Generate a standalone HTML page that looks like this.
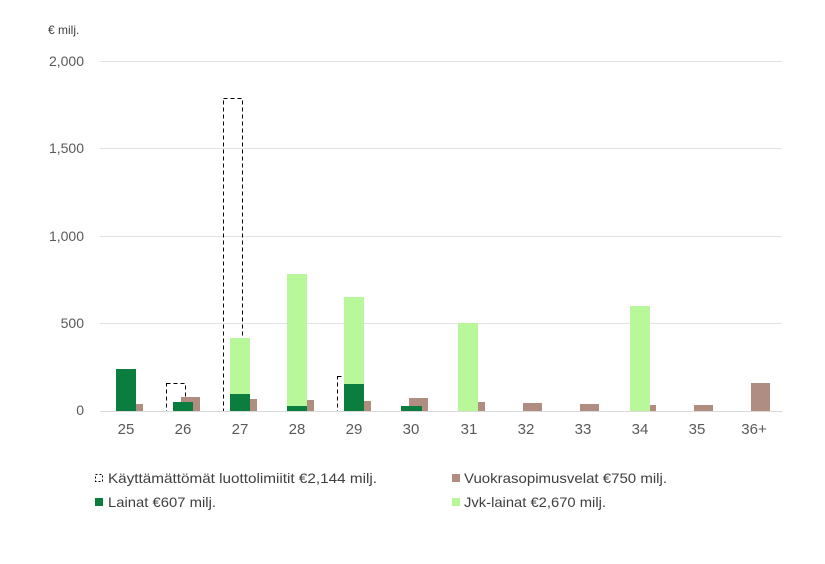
<!DOCTYPE html>
<html><head><meta charset="utf-8"><style>
body{margin:0;background:#fff;}
svg text{font-family:"Liberation Sans",sans-serif;}
</style></head><body>
<svg width="825" height="559" viewBox="0 0 825 559" xmlns="http://www.w3.org/2000/svg">
<rect width="825" height="559" fill="#fff"/>
<text x="48" y="34" font-size="12" fill="#404040">€ milj.</text>
<g stroke="#e3e3e3" stroke-width="1">
<line x1="100" y1="61.5" x2="782" y2="61.5"/>
<line x1="100" y1="148.5" x2="782" y2="148.5"/>
<line x1="100" y1="236.5" x2="782" y2="236.5"/>
<line x1="100" y1="323.5" x2="782" y2="323.5"/>
</g>
<g font-size="14" fill="#595959" text-anchor="end">
<text x="84" y="66">2,000</text>
<text x="84" y="153">1,500</text>
<text x="84" y="241">1,000</text>
<text x="84" y="328">500</text>
<text x="84" y="415">0</text>
</g>
<g fill="none" stroke="#000" stroke-width="1" stroke-dasharray="4,3">
<rect x="166.5" y="383.5" width="19" height="28"/>
<rect x="223.5" y="98.5" width="19" height="313"/>
<rect x="337.5" y="376.5" width="19" height="35"/>
</g>
<g fill="#b08d81">
<rect x="124" y="404" width="19" height="7"/>
<rect x="181" y="397" width="19" height="14"/>
<rect x="238" y="399" width="19" height="12"/>
<rect x="295" y="400" width="19" height="11"/>
<rect x="352" y="401" width="19" height="10"/>
<rect x="409" y="398" width="19" height="13"/>
<rect x="466" y="402" width="19" height="9"/>
<rect x="523" y="403" width="19" height="8"/>
<rect x="580" y="404" width="19" height="7"/>
<rect x="637" y="405" width="19" height="6"/>
<rect x="694" y="405" width="19" height="6"/>
<rect x="751" y="383" width="19" height="28"/>
</g>
<g fill="#b8f79a">
<rect x="230" y="338" width="20" height="73"/>
<rect x="287" y="274" width="20" height="137"/>
<rect x="344" y="297" width="20" height="114"/>
<rect x="458" y="323" width="20" height="88"/>
<rect x="630" y="306" width="20" height="105"/>
</g>
<g fill="#0a7d3f">
<rect x="116" y="369" width="20" height="42"/>
<rect x="173" y="402" width="20" height="9"/>
<rect x="230" y="394" width="20" height="17"/>
<rect x="287" y="406" width="20" height="5"/>
<rect x="344" y="384" width="20" height="27"/>
<rect x="401" y="406" width="21" height="5"/>
</g>
<line x1="100" y1="411.5" x2="782" y2="411.5" stroke="#d9d9d9" stroke-width="1"/>
<g font-size="15" fill="#595959" text-anchor="middle">
<text x="126" y="434">25</text><text x="183" y="434">26</text><text x="240" y="434">27</text>
<text x="297" y="434">28</text><text x="354" y="434">29</text><text x="411" y="434">30</text>
<text x="469" y="434">31</text><text x="526" y="434">32</text><text x="583" y="434">33</text>
<text x="640" y="434">34</text><text x="697" y="434">35</text><text x="754" y="434">36+</text>
</g>
<rect x="95.5" y="474.5" width="7" height="7" fill="none" stroke="#000" stroke-dasharray="2,2"/>
<rect x="95" y="498" width="8" height="8" fill="#0a7d3f"/>
<rect x="452" y="474" width="8" height="8" fill="#b08d81"/>
<rect x="452" y="498" width="8" height="8" fill="#b8f79a"/>
<g font-size="14" fill="#404040">
<text x="108" y="483" textLength="269" lengthAdjust="spacingAndGlyphs">Käyttämättömät luottolimiitit €2,144 milj.</text>
<text x="108" y="507" textLength="108" lengthAdjust="spacingAndGlyphs">Lainat €607 milj.</text>
<text x="464" y="483" textLength="203" lengthAdjust="spacingAndGlyphs">Vuokrasopimusvelat €750 milj.</text>
<text x="464" y="507" textLength="142" lengthAdjust="spacingAndGlyphs">Jvk-lainat €2,670 milj.</text>
</g>
</svg>
</body></html>
